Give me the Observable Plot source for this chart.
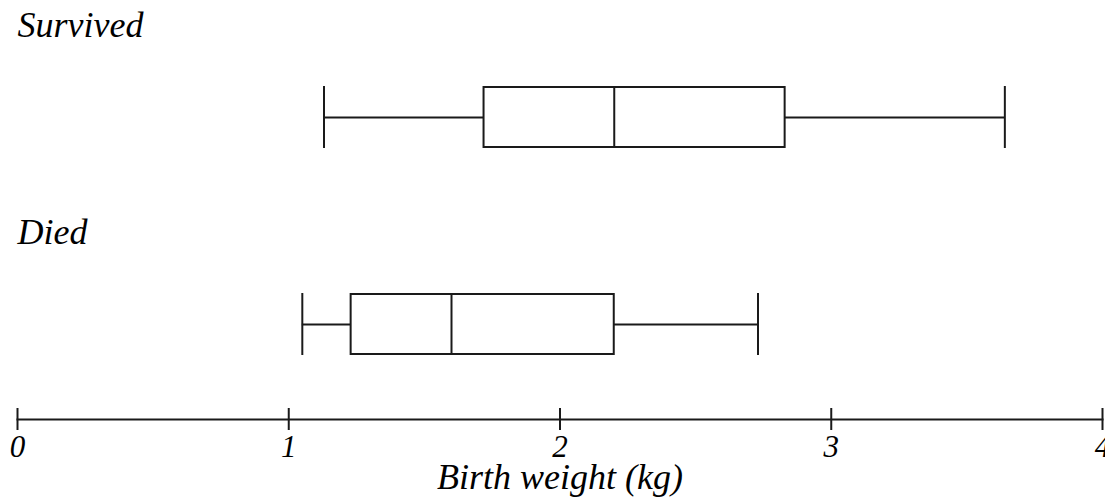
<!DOCTYPE html>
<html>
<head>
<meta charset="utf-8">
<script src="https://cdn.jsdelivr.net/npm/d3@7"></script>
<script src="https://cdn.jsdelivr.net/npm/@observablehq/plot@0.6"></script>
<style>
  html, body { margin: 0; padding: 0; background: #fff; }
  #chart svg { display: block; }
  #chart svg text { font-family: "Liberation Serif", "DejaVu Serif", serif !important; font-style: italic; }
</style>
</head>
<body>
<div id="chart"></div>
<script>
const groups = ["Survived", "Died"];
const mins = [1.13, 1.05];
const q1s = [1.72, 1.23];
const medians = [2.20, 1.60];
const q3s = [2.83, 2.20];
const maxs = [3.64, 2.73];
const xTicks = [0, 1, 2, 3, 4];
const xLabel = "Birth weight (kg)";

const rows = groups.map((g, i) => ({
  group: g, min: mins[i], q1: q1s[i], median: medians[i], q3: q3s[i], max: maxs[i]
}));

const ink = "#1a1a1a";
const sw = 2;
const serif = "Liberation Serif";

const chart = Plot.plot({
  width: 1105,
  height: 498,
  marginLeft: 17,
  marginRight: 3,
  marginTop: 0,
  marginBottom: 79,
  style: { fontFamily: serif, fontStyle: "italic", fontSize: "30px", color: "#000", background: "#fff" },
  x: { domain: [0, 4], axis: null },
  y: { type: "band", domain: groups, range: [86, 354], paddingInner: 0.7115, paddingOuter: 0, axis: null },
  marks: [
    Plot.ruleY(rows, { y: "group", x1: "min", x2: "q1", stroke: ink, strokeWidth: sw }),
    Plot.ruleY(rows, { y: "group", x1: "q3", x2: "max", stroke: ink, strokeWidth: sw }),
    Plot.barX(rows, { y: "group", x1: "q1", x2: "q3", fill: "white", stroke: ink, strokeWidth: sw }),
    Plot.tickX(rows, { y: "group", x: "median", stroke: ink, strokeWidth: sw }),
    Plot.tickX(rows, { y: "group", x: "min", stroke: ink, strokeWidth: sw, insetTop: -1, insetBottom: -1 }),
    Plot.tickX(rows, { y: "group", x: "max", stroke: ink, strokeWidth: sw, insetTop: -1, insetBottom: -1 }),
    Plot.text(rows, { y: "group", text: "group", frameAnchor: "left", textAnchor: "start", dy: -92, fontSize: 36, fontFamily: serif, fontStyle: "italic", fill: "#000" }),
    Plot.frame({ anchor: "bottom", stroke: ink, strokeWidth: sw }),
    Plot.axisX(xTicks, { tickSize: 22, dy: -11, tickPadding: 4, label: null, stroke: ink, strokeWidth: sw, fontSize: 31, fontFamily: serif, fontStyle: "italic", fill: "#000", tickFormat: d => String(d) }),
    Plot.text([xLabel], { text: d => d, frameAnchor: "bottom", dy: 69, fontSize: 36, fontFamily: serif, fontStyle: "italic", fill: "#000" })
  ]
});
document.getElementById("chart").appendChild(chart);
</script>
</body>
</html>
